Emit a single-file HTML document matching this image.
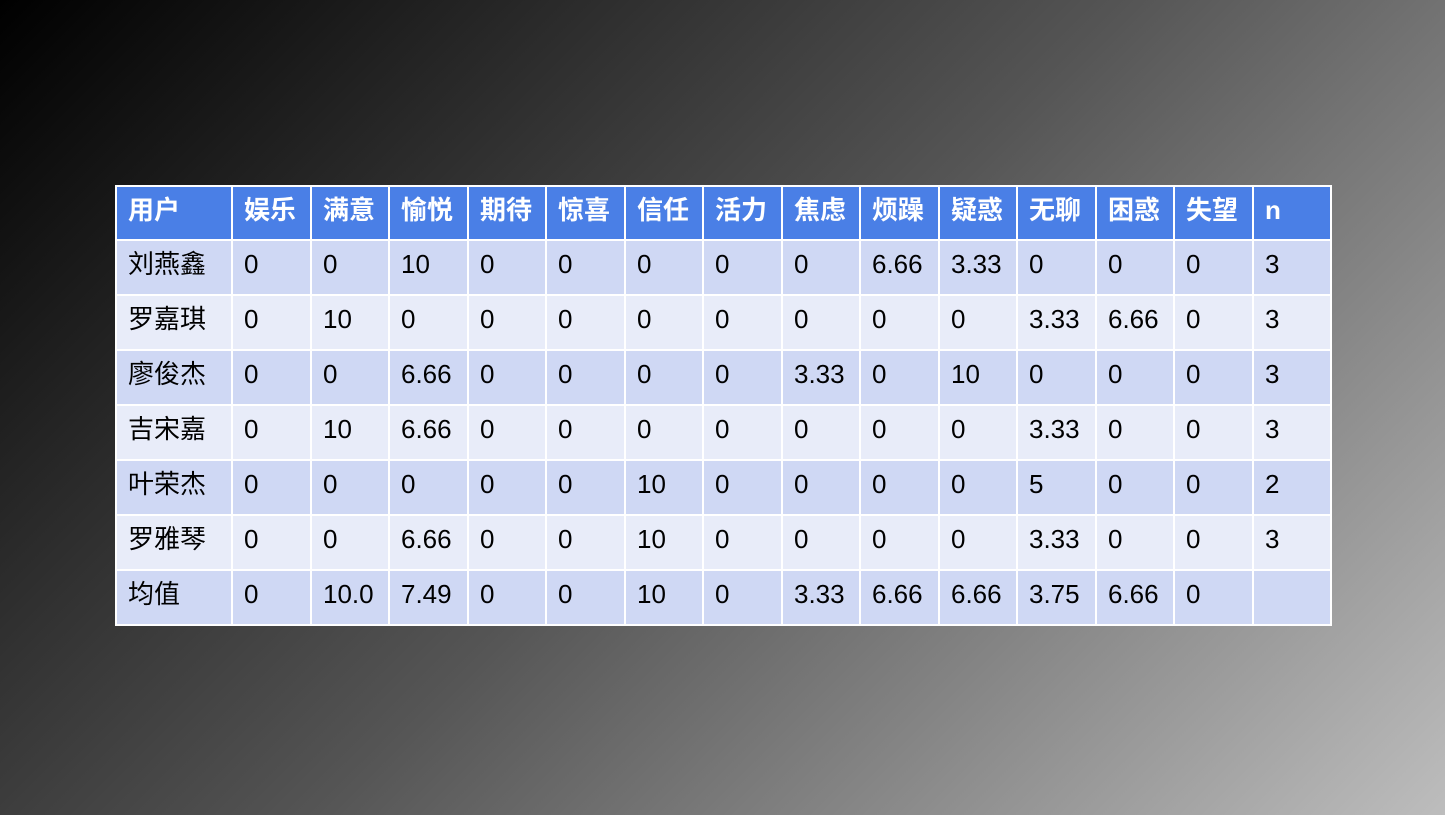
<!DOCTYPE html>
<html><head><meta charset="utf-8"><style>
html,body{margin:0;padding:0}
body{width:1445px;height:815px;overflow:hidden;background:linear-gradient(135deg,#000 0%,#555 50%,#bdbdbd 100%);position:relative;font-family:"Liberation Sans","Noto Sans CJK SC",sans-serif}
table{position:absolute;left:115px;top:185px;border-collapse:separate;border-spacing:2px;background:#fff;table-layout:fixed;width:1217px}
td,th{padding:0 0 7px 11px;text-align:left;vertical-align:middle;white-space:nowrap;overflow:hidden;line-height:30px}
th{background:#4a7fe6;color:#fff;font-weight:bold;height:45px;font-size:26px}
td{height:46px;color:#000;font-size:26px}
tr.o td{background:#cfd8f4}
tr.e td{background:#e8ecf9}
</style></head><body>
<table>
<colgroup><col style="width:114px"><col style="width:77px"><col style="width:76px"><col style="width:77px"><col style="width:76px"><col style="width:77px"><col style="width:76px"><col style="width:77px"><col style="width:76px"><col style="width:77px"><col style="width:76px"><col style="width:77px"><col style="width:76px"><col style="width:77px"><col style="width:76px"></colgroup>
<tr><th>用户</th><th>娱乐</th><th>满意</th><th>愉悦</th><th>期待</th><th>惊喜</th><th>信任</th><th>活力</th><th>焦虑</th><th>烦躁</th><th>疑惑</th><th>无聊</th><th>困惑</th><th>失望</th><th>n</th></tr>
<tr class="o"><td>刘燕鑫</td><td>0</td><td>0</td><td>10</td><td>0</td><td>0</td><td>0</td><td>0</td><td>0</td><td>6.66</td><td>3.33</td><td>0</td><td>0</td><td>0</td><td>3</td></tr>
<tr class="e"><td>罗嘉琪</td><td>0</td><td>10</td><td>0</td><td>0</td><td>0</td><td>0</td><td>0</td><td>0</td><td>0</td><td>0</td><td>3.33</td><td>6.66</td><td>0</td><td>3</td></tr>
<tr class="o"><td>廖俊杰</td><td>0</td><td>0</td><td>6.66</td><td>0</td><td>0</td><td>0</td><td>0</td><td>3.33</td><td>0</td><td>10</td><td>0</td><td>0</td><td>0</td><td>3</td></tr>
<tr class="e"><td>吉宋嘉</td><td>0</td><td>10</td><td>6.66</td><td>0</td><td>0</td><td>0</td><td>0</td><td>0</td><td>0</td><td>0</td><td>3.33</td><td>0</td><td>0</td><td>3</td></tr>
<tr class="o"><td>叶荣杰</td><td>0</td><td>0</td><td>0</td><td>0</td><td>0</td><td>10</td><td>0</td><td>0</td><td>0</td><td>0</td><td>5</td><td>0</td><td>0</td><td>2</td></tr>
<tr class="e"><td>罗雅琴</td><td>0</td><td>0</td><td>6.66</td><td>0</td><td>0</td><td>10</td><td>0</td><td>0</td><td>0</td><td>0</td><td>3.33</td><td>0</td><td>0</td><td>3</td></tr>
<tr class="o"><td>均值</td><td>0</td><td>10.0</td><td>7.49</td><td>0</td><td>0</td><td>10</td><td>0</td><td>3.33</td><td>6.66</td><td>6.66</td><td>3.75</td><td>6.66</td><td>0</td><td></td></tr>
</table>
</body></html>
